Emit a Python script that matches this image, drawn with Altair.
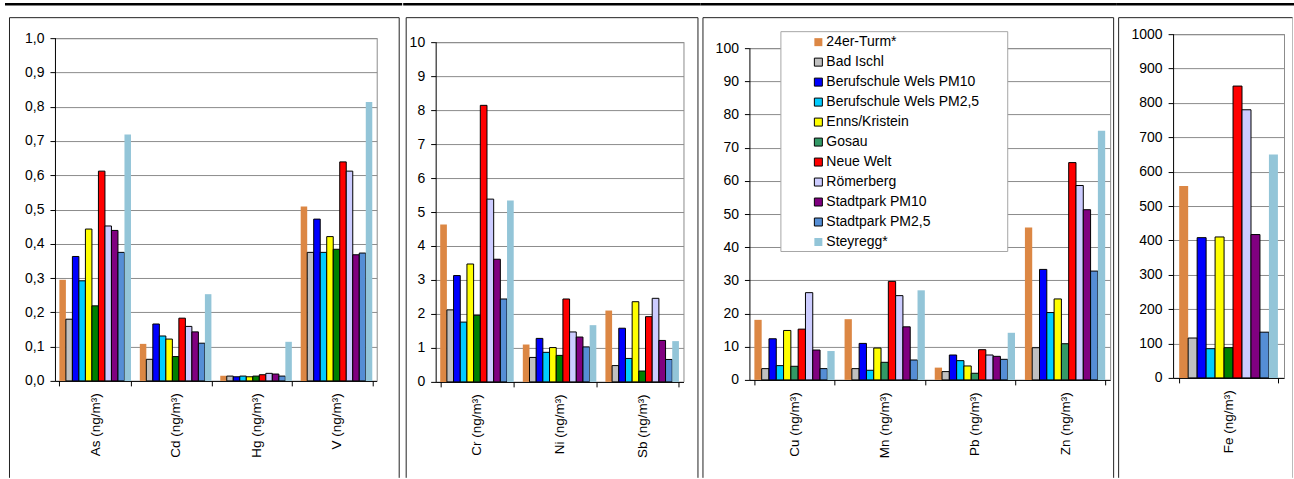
import altair as alt
import pandas as pd

FONT = "Liberation Sans"

# Measuring stations (series) and their bar colours
series = ["24er-Turm*", "Bad Ischl", "Berufschule Wels PM10", "Berufschule Wels PM2,5",
          "Enns/Kristein", "Gosau", "Neue Welt", "Römerberg", "Stadtpark PM10",
          "Stadtpark PM2,5", "Steyregg*"]
fills = ["#DC8744", "#C0C0C0", "#0000FF", "#00CCFF", "#FFFF00", "#008000",
         "#FF0000", "#CCCCFF", "#800080", "#558ED5", "#93C5D8"]
fills_mid = ["#DC8744", "#C0C0C0", "#0000FF", "#00CCFF", "#FFFF00", "#339966",
             "#FF0000", "#CCCCFF", "#800080", "#558ED5", "#93C5D8"]
edges = ["transparent", "black", "black", "black", "black", "black",
         "black", "black", "black", "black", "transparent"]

# Panel 1: As, Cd, Hg, V
elements_1 = ["As (ng/m³)", "Cd (ng/m³)", "Hg (ng/m³)", "V  (ng/m³)"]
as_vals = [0.295, 0.180, 0.363, 0.292, 0.443, 0.219, 0.612, 0.452, 0.439, 0.375, 0.719]
cd_vals = [0.108, 0.063, 0.166, 0.131, 0.122, 0.071, 0.183, 0.159, 0.143, 0.110, 0.253]
hg_vals = [0.015, 0.014, 0.012, 0.014, 0.012, 0.014, 0.018, 0.022, 0.020, 0.014, 0.114]
v_vals = [0.509, 0.375, 0.472, 0.375, 0.421, 0.384, 0.639, 0.612, 0.368, 0.373, 0.814]
ticks_1 = [0.0, 0.1, 0.2, 0.3, 0.4, 0.5, 0.6, 0.7, 0.8, 0.9, 1.0]

# Panel 2: Cr, Ni, Sb
elements_2 = ["Cr (ng/m³)", "Ni (ng/m³)", "Sb (ng/m³)"]
cr_vals = [4.63, 2.12, 3.13, 1.76, 3.47, 1.96, 8.14, 5.38, 3.61, 2.44, 5.34]
ni_vals = [1.10, 0.72, 1.28, 0.87, 1.01, 0.78, 2.44, 1.47, 1.32, 1.03, 1.67]
sb_vals = [2.10, 0.48, 1.58, 0.69, 2.36, 0.32, 1.92, 2.46, 1.22, 0.66, 1.20]
ticks_2 = [0, 1, 2, 3, 4, 5, 6, 7, 8, 9, 10]

# Panel 3: Cu, Mn, Pb, Zn
elements_3 = ["Cu (ng/m³)", "Mn (ng/m³)", "Pb (ng/m³)", "Zn (ng/m³)"]
cu_vals = [18.1, 3.4, 12.4, 4.3, 14.9, 4.1, 15.3, 26.3, 9.0, 3.4, 8.7]
mn_vals = [18.3, 3.4, 11.0, 2.9, 9.6, 5.3, 29.7, 25.4, 16.0, 6.0, 27.0]
pb_vals = [3.7, 2.5, 7.5, 5.8, 4.2, 2.0, 9.1, 7.5, 7.1, 6.2, 14.2]
zn_vals = [45.9, 9.7, 33.3, 20.3, 24.4, 10.9, 65.5, 58.6, 51.3, 32.8, 75.1]
ticks_3 = [0, 10, 20, 30, 40, 50, 60, 70, 80, 90, 100]

# Panel 4: Fe
elements_4 = ["Fe (ng/m³)"]
fe_vals = [558, 116, 408, 85, 410, 88, 849, 780, 417, 133, 650]
ticks_4 = [0, 100, 200, 300, 400, 500, 600, 700, 800, 900, 1000]

TOTAL_H = 478   # page height used by the layout
ORIGIN_Y = 34   # shared top of every panel's plotting group
GRID = "#8C8C8C"


def long_table(elements, columns):
    rows = []
    for el, vals in zip(elements, columns):
        for s, v in zip(series, vals):
            rows.append({"element": el, "series": s, "value": v})
    return pd.DataFrame(rows)


def panel(elements, columns, ticks, geo, fill_range, label_expr=None, legend=None,
          legend_box=None, right_frame_col="#222222"):
    # geo: plot left, axis top, axis bottom, plot width, cell extent, frame edges (page px)
    x0, top, bottom, w, cell_l, cell_r, frame_l, frame_r = geo
    h = bottom - ORIGIN_Y
    # stretch the domain so the top tick lands on this panel's own axis top
    y_hi = ticks[-1] * h / (bottom - top)
    t = top - ORIGIN_Y
    df = long_table(elements, columns)

    y_axis = dict(title=None, values=ticks, tickSize=5, labelPadding=6, grid=True,
                  domain=False, labelFontSize=14)
    if label_expr:
        y_axis["labelExpr"] = label_expr
    else:
        y_axis["format"] = "d"

    bars = alt.Chart(df).mark_bar(strokeWidth=1).encode(
        x=alt.X("element:N", sort=elements,
                scale=alt.Scale(domain=elements, paddingInner=0.11, paddingOuter=0.055),
                axis=alt.Axis(title=None, labelAngle=-90, labelAlign="right",
                              labelBaseline="middle", tickBand="extent", tickSize=5,
                              labelPadding=7, grid=False, labelFontSize=13.5)),
        xOffset=alt.XOffset("series:N", sort=series,
                            scale=alt.Scale(domain=series, paddingInner=0, paddingOuter=0)),
        y=alt.Y("value:Q",
                scale=alt.Scale(domain=[0, y_hi], nice=False, zero=True),
                axis=alt.Axis(**y_axis)),
        fill=alt.Fill("series:N", sort=series,
                      scale=alt.Scale(domain=series, range=fill_range), legend=legend),
        stroke=alt.Stroke("series:N", sort=series,
                          scale=alt.Scale(domain=series, range=edges), legend=legend),
    )

    deco = alt.Chart(pd.DataFrame({"d": [0]}))
    # invisible cell extent used by the concat layout
    cell = deco.mark_rect(opacity=0).encode(
        x=alt.value(cell_l - x0), x2=alt.value(cell_r - x0),
        y=alt.value(-ORIGIN_Y), y2=alt.value(TOTAL_H - ORIGIN_Y))
    # heavy band along the top of the page
    top_band = deco.mark_rect(color="black").encode(
        x=alt.value(max(cell_l, 5) - x0), x2=alt.value(cell_r - x0),
        y=alt.value(2.75 - ORIGIN_Y), y2=alt.value(5.25 - ORIGIN_Y))
    # plot frame: grey top and right edges, black value axis line
    p_top = deco.mark_rule(color=GRID, strokeWidth=1).encode(
        x=alt.value(0), x2=alt.value(w), y=alt.value(t + 0.5))
    p_right = deco.mark_rule(color=GRID, strokeWidth=1).encode(
        x=alt.value(w + 0.5), y=alt.value(t), y2=alt.value(h))
    p_left = deco.mark_rule(color="black", strokeWidth=1).encode(
        x=alt.value(0.5), y=alt.value(t), y2=alt.value(h + 0.5))
    # panel frame: left, top, right
    frame_col = "#222222"
    f_left = deco.mark_rule(color=frame_col, strokeWidth=1).encode(
        x=alt.value(frame_l - x0), y=alt.value(17.5 - ORIGIN_Y), y2=alt.value(TOTAL_H - ORIGIN_Y))
    f_right = deco.mark_rule(color=right_frame_col, strokeWidth=1).encode(
        x=alt.value(frame_r - x0), y=alt.value(17.5 - ORIGIN_Y), y2=alt.value(TOTAL_H - ORIGIN_Y))
    f_top = deco.mark_rule(color=frame_col, strokeWidth=1).encode(
        x=alt.value(frame_l - x0), x2=alt.value(frame_r - x0), y=alt.value(17.5 - ORIGIN_Y))

    layers = [cell, p_top, p_right, bars, p_left]
    if legend_box is not None:
        bx1, by1, bx2, by2 = legend_box
        layers.append(deco.mark_rect(fill="white", stroke="#A6A6A6", strokeWidth=1).encode(
            x=alt.value(bx1 - x0), x2=alt.value(bx2 - x0),
            y=alt.value(by1 - ORIGIN_Y), y2=alt.value(by2 - ORIGIN_Y)))
    layers += [top_band, f_left, f_right, f_top]
    return alt.layer(*layers).properties(width=w, height=h)


legend_3 = alt.Legend(
    title=None, orient="none", legendX=62, legendY=1, padding=0,
    symbolType="square", symbolSize=64, symbolStrokeWidth=1,
    labelFont=FONT, labelFontSize=14, labelColor="black", labelOffset=1,
    rowPadding=6, labelLimit=300,
)

p1 = panel(elements_1, [as_vals, cd_vals, hg_vals, v_vals], ticks_1,
           (55, 38, 381, 322, 0, 402.5, 9.5, 399.5), fills,
           label_expr="replace(format(datum.value, '.1f'), '.', ',')")
p2 = panel(elements_2, [cr_vals, ni_vals, sb_vals], ticks_2,
           (435, 42, 382, 248, 402.5, 700, 405.5, 697.5), fills)
p3 = panel(elements_3, [cu_vals, mn_vals, pb_vals, zn_vals], ticks_3,
           (749, 48, 380, 361, 700, 1116, 702.5, 1113.5), fills_mid,
           legend=legend_3, legend_box=(780.5, 31.5, 1007.5, 251.5))
p4 = panel(elements_4, [fe_vals], ticks_4,
           (1173, 34, 378, 111, 1116, 1294, 1118.5, 1292.5), fills,
           right_frame_col="#BBBBBB")

chart = alt.hconcat(p1, p2, p3, p4, spacing=0).resolve_scale(
    x="independent", y="independent", xOffset="independent",
    fill="independent", stroke="independent",
).properties(
    padding=0, background="white",
).configure_view(
    strokeWidth=0,
).configure_axis(
    labelFont=FONT, labelColor="black", domainColor="black", tickColor="black",
    domainWidth=1, tickWidth=1, gridColor=GRID, gridWidth=1,
).configure_legend(
    labelFont=FONT, labelFontSize=14, labelColor="black",
)

chart.save("out.html", embed_options={"renderer": "svg", "actions": False})
